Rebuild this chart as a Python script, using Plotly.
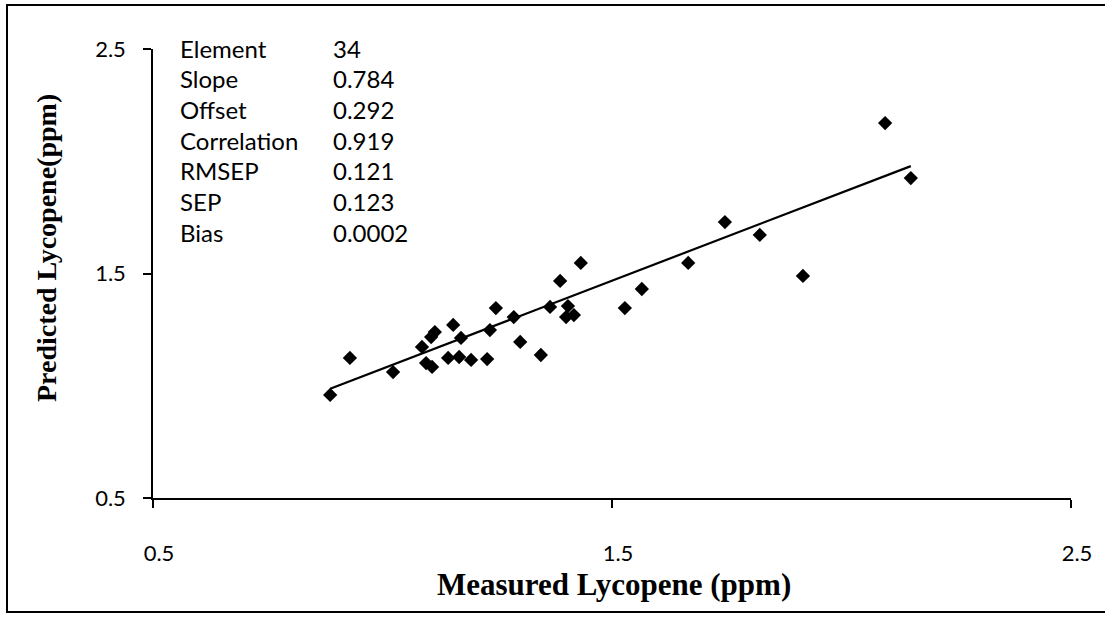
import plotly.graph_objects as go

# Measured vs predicted lycopene (ppm), validation set
measured = [0.886, 0.929, 1.023, 1.086, 1.095, 1.108, 1.106, 1.114, 1.143, 1.154,
            1.171, 1.167, 1.193, 1.228, 1.234, 1.247, 1.286, 1.300, 1.345, 1.365,
            1.387, 1.400, 1.404, 1.417, 1.432, 1.528, 1.565, 1.666, 1.746, 1.822,
            1.916, 2.095, 2.151]
predicted = [0.959, 1.124, 1.061, 1.173, 1.101, 1.084, 1.217, 1.239, 1.124, 1.271,
             1.213, 1.128, 1.115, 1.119, 1.248, 1.346, 1.306, 1.195, 1.137, 1.351,
             1.467, 1.306, 1.355, 1.315, 1.547, 1.346, 1.431, 1.547, 1.729, 1.672,
             1.489, 2.170, 1.925]

# Calibration statistics shown in the top-left corner
stat_names = ["Element", "Slope", "Offset", "Correlation", "RMSEP", "SEP", "Bias"]
stat_values = ["34", "0.784", "0.292", "0.919", "0.121", "0.123", "0.0002"]
slope = 0.784
offset = 0.292

tick_vals = [0.5, 1.5, 2.5]
tick_text = ["0.5", "1.5", "2.5"]

x_lo, x_hi = min(measured), max(measured)

fig = go.Figure()
fig.add_trace(go.Scatter(
    x=[x_lo, x_hi], y=[slope * x_lo + offset, slope * x_hi + offset],
    mode="lines", line=dict(color="black", width=2.2), hoverinfo="skip",
    showlegend=False,
))
fig.add_trace(go.Scatter(
    x=measured, y=predicted, mode="markers",
    marker=dict(symbol="diamond", size=11, color="black"),
    showlegend=False,
))

W, H = 1105, 621
L, R, T, B = 153, 34, 49, 123
pw, ph = W - L - R, H - T - B


def px_x(px):
    return (px - L) / pw


def px_y(py):
    return (H - B - py) / ph


axis_common = dict(
    range=[0.5, 2.5], tickvals=tick_vals, ticktext=tick_text,
    showgrid=False, zeroline=False, showline=True, linecolor="black", linewidth=1.5,
    ticks="outside", ticklen=8, tickwidth=1.5, tickcolor="black",
    tickfont=dict(family="Lato", size=22, color="black"),
)
fig.update_xaxes(**axis_common, ticklabelstandoff=27, ticklabelshift=6)
fig.update_yaxes(**axis_common, ticklabelstandoff=13)

annotations = []
y0 = 48
for i, (name, val) in enumerate(zip(stat_names, stat_values)):
    yy = y0 + i * 30.7
    annotations.append(dict(x=px_x(178), y=px_y(yy), xref="paper", yref="paper",
                            text=name, showarrow=False, xanchor="left", yanchor="middle",
                            font=dict(family="Lato", size=24, color="black")))
    annotations.append(dict(x=px_x(331), y=px_y(yy), xref="paper", yref="paper",
                            text=val, showarrow=False, xanchor="left", yanchor="middle",
                            font=dict(family="Lato", size=24, color="black")))

annotations.append(dict(x=px_x(614), y=px_y(584), xref="paper", yref="paper",
                        text="<b>Measured Lycopene (ppm)</b>", showarrow=False,
                        xanchor="center", yanchor="middle",
                        font=dict(family="Liberation Serif", size=31, color="black")))
annotations.append(dict(x=px_x(46), y=px_y(248), xref="paper", yref="paper",
                        text="<b>Predicted Lycopene(ppm)</b>", showarrow=False, textangle=-90,
                        xanchor="center", yanchor="middle",
                        font=dict(family="Liberation Serif", size=28, color="black")))

# Outer frame of the chart (left, top and bottom edges)
fx0, fx1 = px_x(7), px_x(1105)
fy0, fy1 = px_y(612), px_y(5)
frame = dict(type="path", xref="paper", yref="paper",
             path=f"M {fx1},{fy1} L {fx0},{fy1} L {fx0},{fy0} L {fx1},{fy0}",
             line=dict(color="black", width=2), layer="below")

fig.update_layout(
    width=W, height=H,
    margin=dict(l=L, r=R, t=T, b=B),
    paper_bgcolor="white", plot_bgcolor="white",
    annotations=annotations, shapes=[frame],
)

fig.write_html("out.html")
